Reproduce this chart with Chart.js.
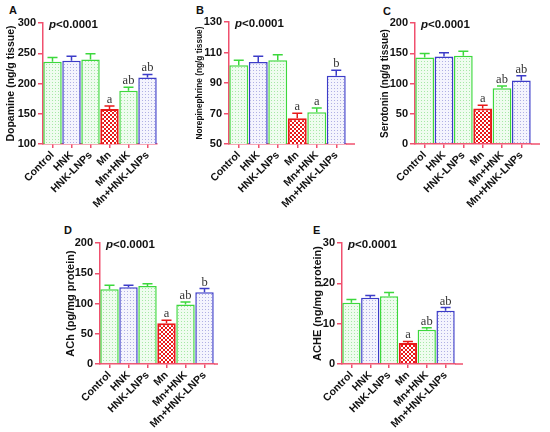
<!DOCTYPE html>
<html lang="en">

<head>
    <meta charset="UTF-8">
    <title>Neurotransmitters</title>
    <script src="https://cdn.jsdelivr.net/npm/chart.js@4.4.1/dist/chart.umd.min.js"></script>
    <style>
        body { margin: 0; background: #fff; width: 550px; height: 432px; position: relative; overflow: hidden; }
        canvas { position: absolute; }
        .letter { position: absolute; font: bold 11px "Liberation Sans", Arial, sans-serif; color: #111; }
    </style>
</head>

<body>
    <div class="letter" style="left:9px;top:4px">A</div>
    <div class="letter" style="left:196px;top:4px">B</div>
    <div class="letter" style="left:383px;top:5px">C</div>
    <div class="letter" style="left:64px;top:224px">D</div>
    <div class="letter" style="left:313px;top:224px">E</div>

    <canvas id="chartA" width="180" height="215" style="left:0px;top:0px"></canvas>
    <canvas id="chartB" width="180" height="215" style="left:186px;top:0px"></canvas>
    <canvas id="chartC" width="178" height="215" style="left:372px;top:0px"></canvas>
    <canvas id="chartD" width="180" height="217" style="left:57px;top:215px"></canvas>
    <canvas id="chartE" width="180" height="217" style="left:299px;top:215px"></canvas>

    <script>
        const groups = ["Control", "HNK", "HNK-LNPs", "Mn", "Mn+HNK", "Mn+HNK-LNPs"];

        const dopamine = [236, 237.5, 239.5, 158, 188, 210];
        const dopamineSem = [7, 7.5, 9.5, 5, 6, 5];
        const dopamineSig = ["", "", "", "a", "ab", "ab"];

        const norepinephrine = [101.6, 103.8, 104.9, 66.9, 70.8, 94.7];
        const norepinephrineSem = [3.3, 3.7, 3.7, 3.3, 2.8, 3.7];
        const norepinephrineSig = ["", "", "", "a", "a", "b"];

        const serotonin = [143, 144.6, 145.7, 58.6, 92, 105];
        const serotoninSem = [6.6, 6.1, 7.7, 5.4, 4, 8];
        const serotoninSig = ["", "", "", "a", "ab", "ab"];

        const ach = [123.7, 127, 129, 67.4, 98.2, 118.7];
        const achSem = [6.6, 3.3, 3.5, 4.9, 4.4, 6];
        const achSig = ["", "", "", "a", "ab", "b"];

        const acheLevels = [15.2, 16.4, 16.8, 5.2, 8.5, 13.2];
        const acheSem = [0.8, 0.6, 0.9, 0.4, 0.5, 0.8];
        const acheSig = ["", "", "", "a", "ab", "ab"];

        const FONT = '"Liberation Sans", Arial, sans-serif';
        const AXIS = "#f0506e";
        const GREEN = "#3cd83c";
        const BLUE = "#3c3cc8";
        const RED = "#e81818";

        function dotPattern(bg, dot) {
            const c = document.createElement("canvas");
            c.width = 3; c.height = 3;
            const g = c.getContext("2d");
            g.fillStyle = bg; g.fillRect(0, 0, 3, 3);
            g.fillStyle = dot; g.fillRect(1, 1, 1, 1);
            return g.createPattern(c, "repeat");
        }

        function checkPattern() {
            const c = document.createElement("canvas");
            c.width = 4; c.height = 4;
            const g = c.getContext("2d");
            g.fillStyle = "#fff"; g.fillRect(0, 0, 4, 4);
            g.fillStyle = RED;
            g.fillRect(0, 0, 2, 2);
            g.fillRect(2, 2, 2, 2);
            return g.createPattern(c, "repeat");
        }

        const greenFill = dotPattern("#effcef", "#a6e8a6");
        const blueFill = dotPattern("#f4f4fd", "#b0b0e4");
        const redFill = checkPattern();
        const fills = [greenFill, blueFill, greenFill, redFill, greenFill, blueFill];
        const borders = [GREEN, BLUE, GREEN, RED, GREEN, BLUE];
        const borderWidths = [1.5, 1.5, 1.5, 2, 1.5, 1.5];

        // error bars, significance letters, p value, axis extension
        const extrasPlugin = {
            id: "extras",
            afterDatasetsDraw(chart) {
                const ex = chart.options.plugins.extras;
                const ctx = chart.ctx;
                const y = chart.scales.y;
                const meta = chart.getDatasetMeta(0);
                const values = chart.data.datasets[0].data;
                ctx.save();
                meta.data.forEach((bar, i) => {
                    const top = y.getPixelForValue(values[i] + ex.sem[i]);
                    ctx.strokeStyle = borders[i];
                    ctx.lineWidth = 1.5;
                    ctx.beginPath();
                    ctx.moveTo(bar.x, bar.y);
                    ctx.lineTo(bar.x, top);
                    ctx.moveTo(bar.x - 5, top);
                    ctx.lineTo(bar.x + 5, top);
                    ctx.stroke();
                    if (ex.sig[i]) {
                        ctx.fillStyle = "#333";
                        ctx.font = '12.5px "Liberation Serif", "Times New Roman", serif';
                        ctx.textAlign = "center";
                        ctx.textBaseline = "alphabetic";
                        ctx.fillText(ex.sig[i], bar.x, top - 3);
                    }
                });

                const area = chart.chartArea;
                ctx.strokeStyle = AXIS;
                ctx.lineWidth = 1.5;
                ctx.beginPath();
                ctx.moveTo(area.right, area.bottom);
                ctx.lineTo(area.right + ex.axisExtra, area.bottom);
                ctx.stroke();

                ctx.fillStyle = "#111";
                ctx.textAlign = "left";
                ctx.textBaseline = "middle";
                ctx.font = "italic bold 11.5px " + FONT;
                const px = area.left + 6;
                const py = area.top + 2;
                ctx.fillText("p", px, py);
                const pw = ctx.measureText("p").width;
                ctx.font = "bold 11.5px " + FONT;
                ctx.fillText("<0.0001", px + pw, py);
                ctx.restore();
            }
        };

        function makeChart(id, values, sem, sig, yTitle, yMin, yMax, step, box) {
            return new Chart(document.getElementById(id), {
                type: "bar",
                data: {
                    labels: groups,
                    datasets: [{
                        data: values,
                        backgroundColor: fills,
                        borderColor: borders,
                        borderWidth: borderWidths,
                        barPercentage: 0.97,
                        categoryPercentage: 1
                    }]
                },
                options: {
                    responsive: false,
                    animation: false,
                    layout: { padding: { top: box.top, right: box.right, left: 0, bottom: 0 } },
                    plugins: {
                        legend: { display: false },
                        tooltip: { enabled: false },
                        extras: { sem, sig, axisExtra: box.axisExtra }
                    },
                    scales: {
                        x: {
                            z: 1,
                            afterFit(scale) { scale.height = box.xHeight; },
                            grid: { offset: false, drawOnChartArea: false, tickLength: 4, color: AXIS, lineWidth: 1.5 },
                            border: { color: AXIS, width: 1.5 },
                            ticks: {
                                autoSkip: false, minRotation: 45, maxRotation: 45, padding: 1,
                                color: "#111", font: { family: FONT, size: 10.5, weight: "bold" }
                            }
                        },
                        y: {
                            min: yMin, max: yMax,
                            afterFit(scale) { scale.width = 43; },
                            grid: { drawOnChartArea: false, tickLength: 5, color: AXIS, lineWidth: 1.5 },
                            border: { color: AXIS, width: 1.5 },
                            ticks: {
                                stepSize: step, padding: 2, color: "#111",
                                font: { family: FONT, size: 11, weight: "bold" }
                            },
                            title: {
                                display: true, text: yTitle, color: "#111",
                                padding: { top: box.titlePad, bottom: 0 },
                                font: { family: FONT, size: box.titleSize, weight: "bold" }
                            }
                        }
                    }
                },
                plugins: [extrasPlugin]
            });
        }

        makeChart("chartA", dopamine, dopamineSem, dopamineSig, "Dopamine (ng/g tissue)", 100, 300, 50,
            { top: 23, right: 23, xHeight: 71, axisExtra: 0, titleSize: 10.5, titlePad: 5 });
        makeChart("chartB", norepinephrine, norepinephrineSem, norepinephrineSig, "Norepinephrine (ng/g tissue)", 50, 130, 20,
            { top: 22, right: 20, xHeight: 71, axisExtra: 9, titleSize: 8.3, titlePad: 9 });
        makeChart("chartC", serotonin, serotoninSem, serotoninSig, "Serotonin (ng/g tissue)", 0, 200, 50,
            { top: 23, right: 19, xHeight: 71, axisExtra: 9, titleSize: 10, titlePad: 7 });
        makeChart("chartD", ach, achSem, achSig, "ACh (pg/mg protein)", 0, 200, 50,
            { top: 28, right: 23, xHeight: 68, axisExtra: 4, titleSize: 11, titlePad: 7 });
        makeChart("chartE", acheLevels, acheSem, acheSig, "ACHE (ng/mg protein)", 0, 30, 10,
            { top: 28, right: 24, xHeight: 68, axisExtra: 8, titleSize: 11, titlePad: 12 });
    </script>
</body>

</html>
